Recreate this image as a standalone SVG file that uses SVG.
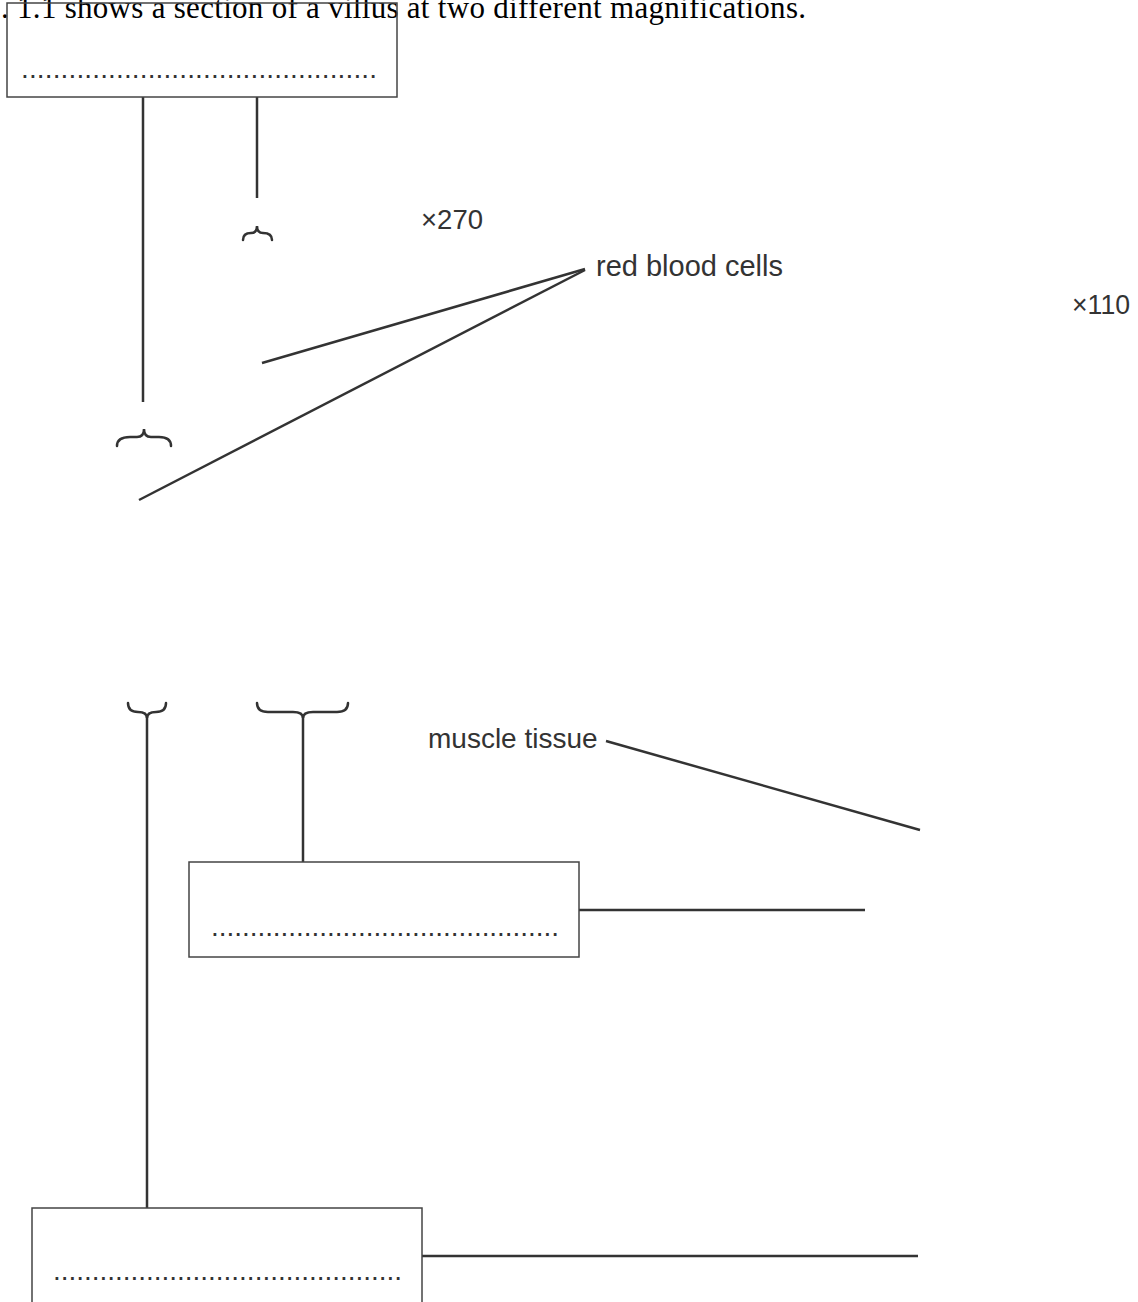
<svg xmlns="http://www.w3.org/2000/svg" width="1138" height="1302" viewBox="0 0 1138 1302">
<style>
.ln{stroke:#333;stroke-width:2.5;fill:none;stroke-linecap:butt}
.br{stroke:#333;stroke-width:2.5;fill:none;stroke-linecap:round}
.box{stroke:#444;stroke-width:1.5;fill:none}
.lbl{font-family:"Liberation Sans",Arial,sans-serif;fill:#333}
.dots{font-family:"Liberation Sans",Arial,sans-serif;font-size:28px;fill:#333}
.title{font-family:"Liberation Serif","Times New Roman",serif;font-size:31px;fill:#000}
</style>
<rect width="1138" height="1302" fill="#fff"/>
<text class="title" x="1" y="18" textLength="805" lengthAdjust="spacing">. 1.1 shows a section of a villus at two different magnifications.</text>
<g id="connectors">
<line class="ln" x1="143" y1="97" x2="143" y2="402"/>
<line class="ln" x1="257" y1="97" x2="257" y2="198"/>
<line class="ln" x1="585" y1="269" x2="262" y2="363"/>
<line class="ln" x1="585" y1="270" x2="139" y2="500"/>
<line class="ln" x1="147" y1="716" x2="147" y2="1208"/>
<line class="ln" x1="303" y1="716" x2="303" y2="862"/>
<line class="ln" x1="606" y1="741" x2="920" y2="830"/>
<line class="ln" x1="579" y1="910" x2="865" y2="910"/>
<line class="ln" x1="422" y1="1256" x2="918" y2="1256"/>
</g>
<g id="brace-top-small">
<path class="br" d="M243,240 Q243,233 251,233 Q257,233 257,226 Q257,233 263,233 Q272,233 272,240"/>
</g>
<g id="brace-top-large">
<path class="br" d="M117,446 Q117,437 130,437 L137,437 Q144,437 144,429 Q144,437 151,437 L159,437 Q171,437 171,446"/>
</g>
<g id="brace-bottom-left">
<path class="br" d="M128,703 Q128,712 138,712 Q147,712 147,718 Q147,712 156,712 Q166,712 166,703"/>
</g>
<g id="brace-bottom-right">
<path class="br" d="M257,703 Q257,712 268,712 L293,712 Q303,712 303,718 Q303,712 313,712 L337,712 Q348,712 348,703"/>
</g>
<g id="node-top-box">
<rect class="box" x="7" y="3" width="390" height="94"/>
<text class="dots" x="21" y="78" textLength="356" lengthAdjust="spacing">.............................................</text>
</g>
<g id="node-middle-box">
<rect class="box" x="189" y="862" width="390" height="95"/>
<text class="dots" x="211" y="936" textLength="348" lengthAdjust="spacing">.............................................</text>
</g>
<g id="node-bottom-box">
<rect class="box" x="32" y="1208" width="390" height="100"/>
<text class="dots" x="53" y="1280" textLength="349" lengthAdjust="spacing">.............................................</text>
</g>
<g id="label-x270"><text class="lbl" x="421" y="229" font-size="27" textLength="62" lengthAdjust="spacingAndGlyphs">×270</text></g>
<g id="label-x110"><text class="lbl" x="1072" y="314" font-size="27" textLength="58" lengthAdjust="spacingAndGlyphs">×110</text></g>
<g id="label-rbc"><text class="lbl" x="596" y="276" font-size="29">red blood cells</text></g>
<g id="label-muscle"><text class="lbl" x="428" y="748" font-size="28">muscle tissue</text></g>
</svg>
